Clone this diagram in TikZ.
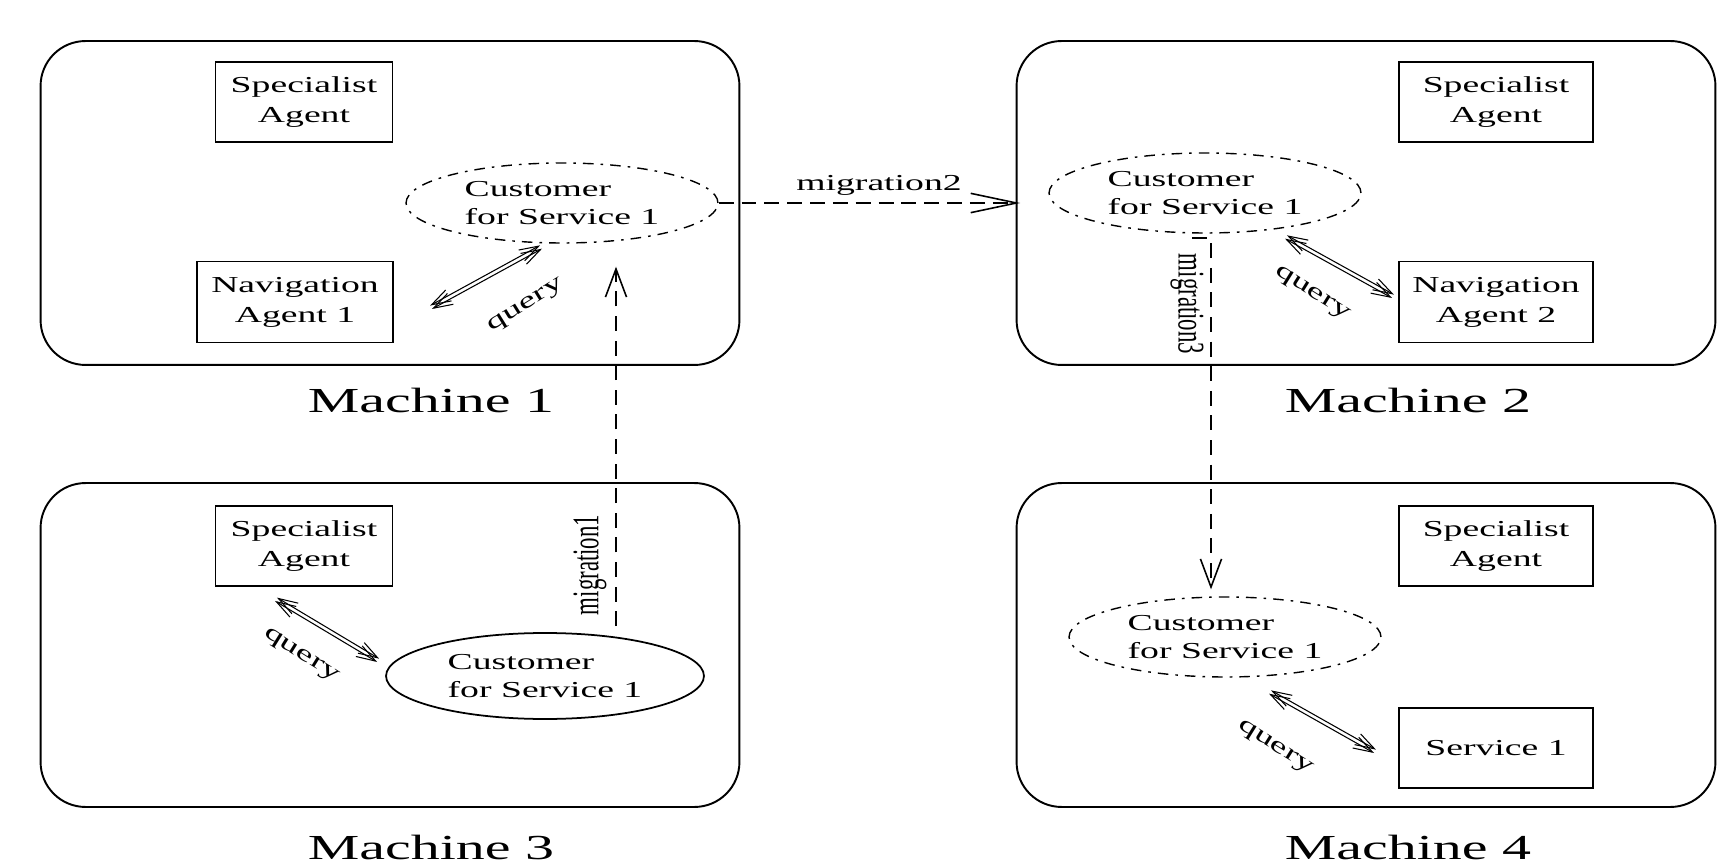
\documentclass[tikz,border=0pt]{standalone}
\usepackage{fontspec}
\setmainfont{Liberation Serif}
\newfontfamily\wide[FakeStretch=1.65]{Liberation Serif}
\usepackage{graphicx}
\usetikzlibrary{arrows.meta,shapes.geometric,calc}
\begin{document}
\begin{tikzpicture}[x=0.02cm,y=-0.02cm,
  machine/.style={draw,line width=1.1pt,rounded corners=0.9cm,minimum width=13.98cm,minimum height=6.48cm,inner sep=0pt},
  agent/.style={draw,line width=1.1pt,inner sep=0pt,minimum height=1.6cm,align=center,font=\wide\fontsize{13}{17}\selectfont},
  cust/.style={ellipse,inner sep=0pt,minimum width=6.24cm,minimum height=1.6cm,align=left,font=\wide\fontsize{13}{16}\selectfont},
  custdash/.style={cust,draw,line width=0.8pt,dash pattern=on 6pt off 4pt on 1.5pt off 4pt},
  custsolid/.style={cust,draw,line width=1pt,minimum width=6.36cm,minimum height=1.72cm},
  mlabel/.style={font=\wide\fontsize{20}{23}\selectfont},
  qlabel/.style={font=\wide\fontsize{13}{15}\selectfont},
  miglabel/.style={font=\wide\fontsize{13}{15}\selectfont},
  migh/.style={line width=1pt,dash pattern=on 8.5pt off 4.5pt,-{Straight Barb[length=26pt,width=11pt,line width=0.9pt]}},
  migv/.style={line width=1pt,dash pattern=on 8.5pt off 5.5pt,-{Straight Barb[length=16pt,width=12pt,line width=0.9pt]}},
  qarrow/.style={line width=0.6pt,{Straight Barb[length=11pt,width=7pt,line width=0.6pt]}-{Straight Barb[length=11pt,width=7pt,line width=0.6pt]}}
]
\useasboundingbox (0,0) rectangle (1734,864);

% machines
\node[machine] (m1) at (390,203) {};
\node[machine] (m2) at (1366,203) {};
\node[machine] (m3) at (390,645) {};
\node[machine] (m4) at (1366,645) {};
\node[mlabel] (l1) at (431,400) {Machine 1};
\node[mlabel] (l2) at (1408,400) {Machine 2};
\node[mlabel] (l3) at (431,847) {Machine 3};
\node[mlabel] (l4) at (1408,847) {Machine 4};

% machine 1
\node[agent,minimum width=3.54cm] (sa1) at (304,102) {Specialist\\Agent};
\node[agent,minimum width=3.92cm,minimum height=1.62cm] (na1) at (295,302) {Navigation\\Agent 1};
\node[custdash] (c1) at (562,203) {Customer\\for Service 1};

% machine 2
\node[agent,minimum width=3.88cm] (sa2) at (1496,102) {Specialist\\Agent};
\node[custdash] (c2) at (1205,193) {Customer\\for Service 1};
\node[agent,minimum width=3.88cm,minimum height=1.62cm] (na2) at (1496,302) {Navigation\\Agent 2};

% machine 3
\node[agent,minimum width=3.54cm] (sa3) at (304,546) {Specialist\\Agent};
\node[custsolid] (c3) at (545,676) {Customer\\for Service 1};

% machine 4
\node[agent,minimum width=3.88cm] (sa4) at (1496,546) {Specialist\\Agent};
\node[custdash] (c4) at (1225,637) {Customer\\for Service 1};
\node[agent,minimum width=3.88cm] (s1) at (1496,748) {Service 1};

% query arrows
\coordinate (q1a) at ($(na1.east)+(38,7)$);
\coordinate (q1b) at ($(c1.south)+(-20,5)$);
\coordinate (q2a) at ($(c2.south)+(80,5)$);
\coordinate (q2b) at ($(na2.west)+(-6,-4)$);
\coordinate (q3a) at ($(sa3.south)+(-29,14)$);
\coordinate (q3b) at ($(c3.west)+(-8,-14)$);
\coordinate (q4a) at ($(c4.south)+(44,16)$);
\coordinate (q4b) at ($(s1.west)+(-24,5)$);
\foreach \a/\b in {q1a/q1b,q2a/q2b,q3a/q3b,q4a/q4b}{
  \draw[qarrow] (\a) -- (\b);
  \draw[qarrow] ($(\a)!2.2pt!90:(\b)$) -- ($(\b)!2.2pt!-90:(\a)$);
}
\node[qlabel,rotate=32] (ql1) at (526,306) {query};
\node[qlabel,rotate=-32] (ql2) at (1312,294) {query};
\node[qlabel,rotate=-32] (ql3) at (301,656) {query};
\node[qlabel,rotate=-32] (ql4) at (1275,748) {query};

% migrations
\draw[migh,shorten >=16\pgflinewidth] (c1.east) -- (c1.east -| c2.west);
\node[miglabel] (mg2) at (879,185) {migration2};
\draw[migv] ($(c3.north)+(71,-6)$) -- ($(c1.south)+(54,23)$);
\node[inner sep=0pt] (mg1) at (590,565) {\rotatebox{90}{\scalebox{1}[1.65]{\fontsize{13}{15}\selectfont migration1}}};
\draw[migv] ($(c2.south)+(-13,4)$) -| ($(c4.north)+(-14,-7)$);
\node[inner sep=0pt] (mg3) at (1187,304) {\rotatebox{-90}{\scalebox{1}[1.65]{\fontsize{13}{15}\selectfont migration3}}};
\end{tikzpicture}
\end{document}
